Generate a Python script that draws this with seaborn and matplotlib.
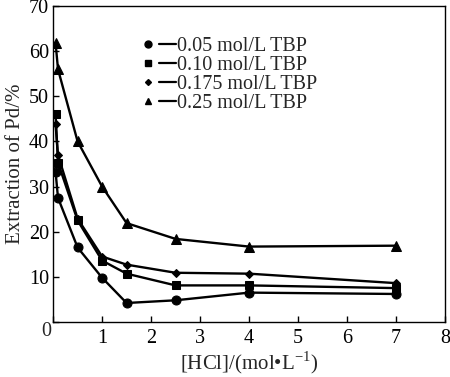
import pandas as pd
import seaborn as sns
import matplotlib.pyplot as plt
from matplotlib.legend_handler import HandlerTuple

# HCl concentration, mol/L
hcl = [0.05, 0.1, 0.5, 1.0, 1.5, 2.5, 4.0, 7.0]

# extraction of Pd (%) for each TBP concentration
tbp_005 = [33.3, 27.5, 16.5, 9.8, 4.2, 4.8, 6.5, 6.2]
tbp_010 = [46.1, 35.3, 22.5, 13.6, 10.7, 8.1, 8.1, 7.5]
tbp_0175 = [43.8, 37.0, 22.9, 14.5, 12.7, 10.9, 10.7, 8.6]
tbp_025 = [61.9, 56.0, 40.0, 30.0, 21.9, 18.4, 16.7, 16.9]

series_names = ["0.05 mol/L TBP", "0.10 mol/L TBP", "0.175 mol/L TBP", "0.25 mol/L TBP"]
markers = {"0.05 mol/L TBP": "o", "0.10 mol/L TBP": "s",
           "0.175 mol/L TBP": "D", "0.25 mol/L TBP": "^"}
marker_sizes = {"0.05 mol/L TBP": 6.5, "0.10 mol/L TBP": 6,
                "0.175 mol/L TBP": 4.5, "0.25 mol/L TBP": 6.5}

rows = []
for name, vals in zip(series_names, [tbp_005, tbp_010, tbp_0175, tbp_025]):
    for x, y in zip(hcl, vals):
        rows.append({"HCl": x, "Extraction": y, "series": name})
df = pd.DataFrame(rows)

sns.set_style("ticks")
plt.rcParams['font.family'] = ['Liberation Serif', 'DejaVu Serif']
plt.rcParams['mathtext.fontset'] = 'custom'
plt.rcParams['mathtext.rm'] = 'Liberation Serif'

fig = plt.figure(figsize=(4.5, 3.77), dpi=100)
ax = fig.add_axes([0.118, 0.146, 0.871, 0.838])

for name in series_names:
    sub = df[df["series"] == name]
    sns.lineplot(data=sub, x="HCl", y="Extraction", ax=ax, color="black",
                 linewidth=1.7, marker=markers[name], markersize=marker_sizes[name],
                 markeredgecolor="black", legend=False)

ax.set_xlim(0, 8)
ax.set_ylim(0, 70)
ax.set_xticks(range(0, 9))
ax.set_yticks(range(0, 71, 10))
ax.set_xticklabels([""] + [str(i) for i in range(1, 9)])
ax.set_yticklabels([""] + [str(i) for i in range(10, 71, 10)])
ax.tick_params(direction="in", length=4, width=1, labelsize=14.5, colors="black")
ax.tick_params(axis="x", pad=5)
ax.tick_params(axis="y", pad=3)
for sp in ax.spines.values():
    sp.set_linewidth(1.0)
    sp.set_color("black")
ax.text(-0.004, -0.03, "0", transform=ax.transAxes, ha="right", va="center", fontsize=14.5)

ax.set_xlabel("[HCl]/(mol\u2022L$^{-1}$)", fontsize=15, labelpad=1)
ax.set_ylabel("Extraction of Pd/%", fontsize=15, labelpad=3)

# legend entries: marker, then a short dash, then the text
handles = []
for n in series_names:
    mk = plt.Line2D([], [], color="black", linestyle="none", marker=markers[n],
                    markersize=marker_sizes[n] - 1.5)
    dash = plt.Line2D([], [], color="black", linewidth=1.6)
    handles.append((mk, dash))
ax.legend(handles, series_names, loc="upper left", bbox_to_anchor=(0.21, 0.915),
          frameon=False, fontsize=14.5, handlelength=1.8, handletextpad=0.08,
          labelspacing=0.0, borderpad=0.2, borderaxespad=0,
          handler_map={tuple: HandlerTuple(ndivide=2, pad=0.12)})

fig.savefig("out.png", dpi=100)
